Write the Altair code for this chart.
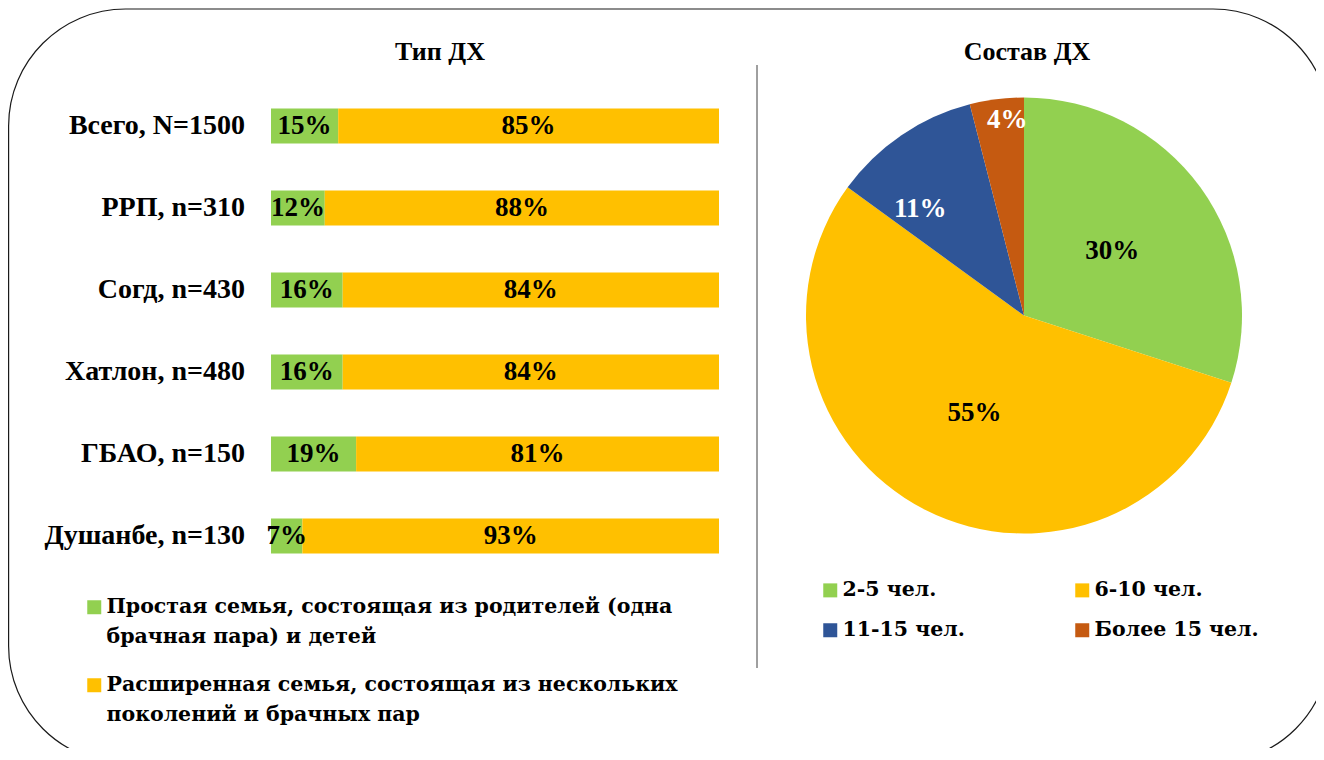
import math
import altair as alt
import pandas as pd

# ---------------- data ----------------
categories = ["Всего, N=1500", "РРП, n=310", "Согд, n=430", "Хатлон, n=480", "ГБАО, n=150", "Душанбе, n=130"]
simple_share = [15, 12, 16, 16, 19, 7]
extended_share = [85, 88, 84, 84, 81, 93]
bar_series = [
    "Простая семья, состоящая из родителей (одна\nбрачная пара) и детей",
    "Расширенная семья, состоящая из нескольких\nпоколений и брачных пар",
]
bar_colors = ["#92D050", "#FFC000"]

pie_groups = ["2-5 чел.", "6-10 чел.", "11-15 чел.", "Более 15 чел."]
pie_values = [30, 55, 11, 4]
pie_colors = ["#92D050", "#FFC000", "#2F5597", "#C55A11"]

titles = ["Тип ДХ", "Состав ДХ"]

FONT = "Liberation Serif"
LFONT = "DejaVu Serif"

rows = []
for i, c in enumerate(categories):
    rows.append({"cat": c, "series": bar_series[0], "value": simple_share[i], "k": 0})
    rows.append({"cat": c, "series": bar_series[1], "value": extended_share[i], "k": 1})
bar_df = pd.DataFrame(rows)
cat_df = pd.DataFrame({"cat": categories})
pie_df = pd.DataFrame({"group": pie_groups, "value": pie_values, "k": list(range(len(pie_groups)))})

# ---------------- scales ----------------
xs = alt.Scale(domain=[0, 100], range=[263, 711])
ys = alt.Scale(domain=categories, range=[77, 569], paddingInner=0.573, paddingOuter=0.2865)
ts = alt.Scale(domain=[0, 100], range=[0, 2 * math.pi])

# ---------------- decorations ----------------
border = alt.Chart().mark_rect(
    fill="transparent", stroke="#1a1a1a", strokeWidth=1.2, cornerRadius=117, clip=True
).encode(x=alt.value(0.6), x2=alt.value(1322), y=alt.value(1), y2=alt.value(755))

divider = alt.Chart().mark_rule(color="#404040", strokeWidth=1).encode(
    x=alt.value(749), y=alt.value(57), y2=alt.value(660)
)

title_left = alt.Chart().mark_text(
    text=titles[0], font=FONT, fontSize=26, fontWeight="bold", color="black", baseline="middle"
).encode(x=alt.value(432), y=alt.value(44))
title_right = alt.Chart().mark_text(
    text=titles[1], font=FONT, fontSize=26, fontWeight="bold", color="black", baseline="middle"
).encode(x=alt.value(1019), y=alt.value(44))

# ---------------- bars ----------------
bar_base = alt.Chart(bar_df).transform_stack(
    stack="value", groupby=["cat"], as_=["x0", "x1"], sort=[alt.SortField("k")]
).transform_calculate(mid="(datum.x0 + datum.x1) / 2", label="datum.value + '%'")

bars = bar_base.mark_bar().encode(
    x=alt.X("x0:Q", scale=xs, axis=None),
    x2="x1:Q",
    y=alt.Y("cat:N", scale=ys, axis=None),
    color=alt.Color(
        "series:N",
        scale=alt.Scale(domain=bar_series, range=bar_colors),
        legend=alt.Legend(
            title=None, orient="none", legendX=76, legendY=589, direction="vertical",
            symbolType="square", symbolSize=196, symbolStrokeWidth=0, symbolOpacity=1,
            labelFont=LFONT, labelFontSize=20.5, labelFontWeight="bold", labelColor="black",
            labelOffset=2, labelLimit=900, labelExpr="split(datum.label, '\\n')",
            rowPadding=27, padding=0,
        ),
    ),
)

bar_text = bar_base.mark_text(
    font=FONT, fontSize=27, fontWeight="bold", color="black", baseline="middle"
).encode(
    x=alt.X("mid:Q", scale=xs, axis=None),
    y=alt.Y("cat:N", scale=ys, axis=None),
    text="label:N",
)

cat_text = alt.Chart(cat_df).mark_text(
    font=FONT, fontSize=28, fontWeight="bold", color="black", align="right", baseline="middle"
).encode(x=alt.value(237), y=alt.Y("cat:N", scale=ys, axis=None), text="cat:N")

# ---------------- pie ----------------
pie_base = alt.Chart(pie_df).transform_stack(
    stack="value", groupby=[], as_=["t0", "t1"], sort=[alt.SortField("k")]
).transform_calculate(tm="(datum.t0 + datum.t1) / 2", label="datum.value + '%'")

CX, CY = 1016, 307.5

arcs = pie_base.mark_arc(outerRadius=218).encode(
    theta=alt.Theta("t0:Q", scale=ts),
    theta2="t1:Q",
    color=alt.Color(
        "group:N",
        scale=alt.Scale(domain=pie_groups, range=pie_colors),
        legend=alt.Legend(
            title=None, orient="none", legendX=812, legendY=572, columns=2,
            direction="horizontal", columnPadding=107, rowPadding=19,
            symbolType="square", symbolSize=196, symbolStrokeWidth=0, symbolOpacity=1,
            labelFont=LFONT, labelFontSize=20.5, labelFontWeight="bold", labelColor="black",
            labelOffset=2, labelLimit=600, padding=0,
        ),
    ),
    x=alt.value(CX),
    y=alt.value(CY),
)

txt_kw = dict(font=FONT, fontSize=27, fontWeight="bold", baseline="middle")
pie_text_big = pie_base.transform_filter("datum.value >= 20").mark_text(
    radius=109, color="black", **txt_kw
).encode(theta=alt.Theta("tm:Q", scale=ts), text="label:N", x=alt.value(CX), y=alt.value(CY))

pie_text_mid = pie_base.transform_filter("datum.value >= 8 && datum.value < 20").mark_text(
    radius=149, dx=-20, dy=17, color="white", **txt_kw
).encode(theta=alt.Theta("tm:Q", scale=ts), text="label:N", x=alt.value(CX), y=alt.value(CY))

pie_text_small = pie_base.transform_filter("datum.value < 8").mark_text(
    radius=197, dx=8, color="white", **txt_kw
).encode(theta=alt.Theta("tm:Q", scale=ts), text="label:N", x=alt.value(CX), y=alt.value(CY))

chart = alt.layer(
    border, divider, title_left, title_right,
    bars, bar_text, cat_text,
    arcs, pie_text_big, pie_text_mid, pie_text_small,
).resolve_scale(color="independent").properties(
    width=1308, height=740, autosize=alt.AutoSizeParams(type="none"), padding=0,
    background="white",
).configure(style={"guide-label": {"lineHeight": 30}}).configure_view(
    stroke="transparent", strokeWidth=0
)

chart.save("out.html", embed_options={"renderer": "svg", "actions": False})
